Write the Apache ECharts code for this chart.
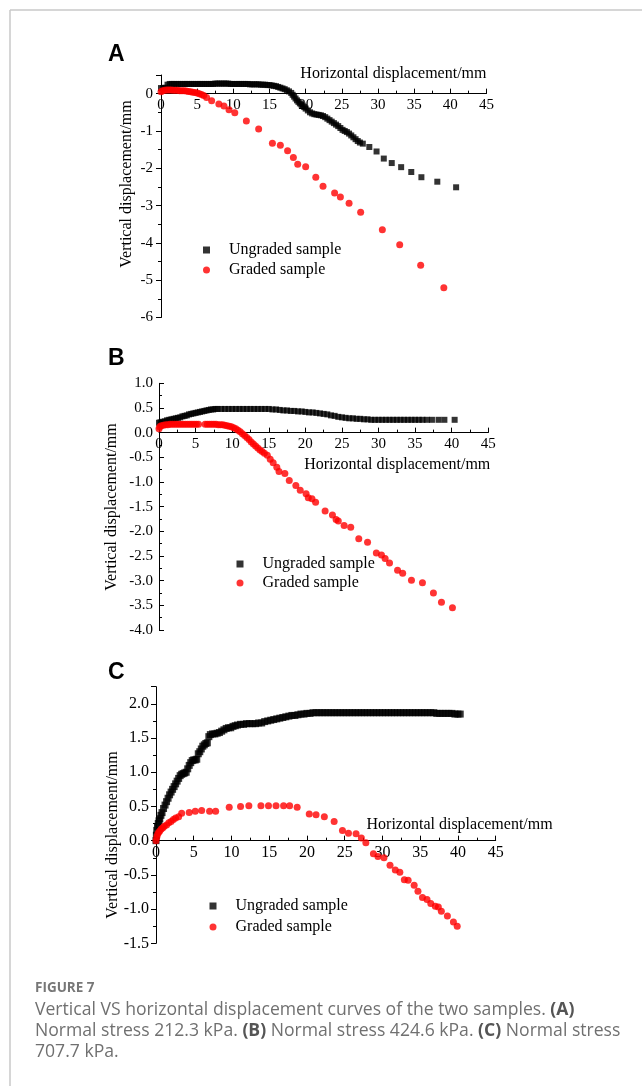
<!DOCTYPE html>
<html>
<head>
<meta charset="utf-8">
<script src="https://cdn.jsdelivr.net/npm/echarts@6/dist/echarts.min.js"></script>
<style>
html,body{margin:0;padding:0;background:#fff;}
#chart{width:642px;height:1086px;}
</style>
</head>
<body>
<div id="chart"></div>
<script>
// ---------- DATA ----------
const seriesNames = ['Ungraded sample', 'Graded sample'];
const panelLetters = ['A', 'B', 'C'];
const xAxisName = 'Horizontal displacement/mm';
const yAxisName = 'Vertical displacement/mm';
const xTicks = [0, 5, 10, 15, 20, 25, 30, 35, 40, 45];

// Panel A (212.3 kPa)
const ungradedA = [[0,0.15],[0.3,0.15],[0.6,0.16],[0.9,0.24],[1.2,0.26],[1.5,0.26],[1.8,0.26],[2.1,0.26],[2.4,0.26],[2.7,0.26],[3,0.26],[3.3,0.26],[3.6,0.26],[3.9,0.26],[4.2,0.26],[4.5,0.26],[4.8,0.26],[5.1,0.26],[5.4,0.26],[5.7,0.26],[6,0.26],[6.3,0.26],[6.6,0.26],[6.9,0.26],[7.2,0.26],[7.5,0.27],[7.8,0.27],[8.1,0.27],[8.4,0.27],[8.7,0.27],[9,0.27],[9.3,0.27],[9.6,0.26],[9.9,0.26],[10.2,0.26],[10.5,0.26],[10.8,0.26],[11.1,0.26],[11.4,0.26],[11.7,0.26],[12,0.26],[12.3,0.25],[12.6,0.25],[12.9,0.25],[13.2,0.25],[13.5,0.25],[13.8,0.24],[14.1,0.24],[14.4,0.24],[14.7,0.23],[15,0.23],[15.3,0.22],[15.6,0.21],[15.9,0.2],[16.2,0.18],[16.5,0.16],[16.8,0.14],[17.1,0.12],[17.4,0.09],[17.7,0.06],[18,0.02],[18.2,-0.03],[18.4,-0.08],[18.6,-0.13],[18.8,-0.18],[19,-0.22],[19.2,-0.26],[19.4,-0.29],[19.6,-0.32],[19.8,-0.36],[20,-0.4],[20.3,-0.45],[20.6,-0.5],[20.9,-0.53],[21.2,-0.55],[21.5,-0.56],[21.8,-0.57],[22.1,-0.58],[22.4,-0.6],[22.7,-0.63],[23,-0.67],[23.3,-0.71],[23.6,-0.75],[23.9,-0.79],[24.2,-0.83],[24.5,-0.87],[24.8,-0.92],[25.1,-0.97],[25.4,-1.0],[25.7,-1.03],[26,-1.07],[26.3,-1.12],[26.6,-1.17],[26.9,-1.22],[27.2,-1.27],[27.5,-1.31],[27.9,-1.34],[28.8,-1.43],[29.8,-1.55],[30.8,-1.74],[31.9,-1.86],[33.2,-1.97],[34.6,-2.1],[36,-2.24],[38.2,-2.36],[40.8,-2.51]];
const gradedA = [[0,0.05],[0.2,0.08],[0.5,0.09],[0.8,0.1],[1.1,0.1],[1.4,0.1],[1.7,0.09],[2.0,0.09],[2.3,0.09],[2.6,0.08],[2.9,0.08],[3.2,0.08],[3.5,0.07],[3.8,0.06],[4.1,0.05],[4.4,0.04],[4.7,0.03],[5.0,0.02],[5.3,0.0],[5.6,-0.02],[5.9,-0.05],[6.3,-0.1],[7.0,-0.19],[8.0,-0.28],[8.7,-0.33],[9.4,-0.43],[10.2,-0.51],[11.8,-0.73],[13.5,-0.95],[15.4,-1.33],[16.5,-1.38],[17.5,-1.53],[18.3,-1.71],[18.9,-1.89],[20,-1.96],[21.4,-2.24],[22.4,-2.48],[24,-2.66],[24.8,-2.77],[26,-2.94],[27.6,-3.18],[30.6,-3.65],[33,-4.05],[35.9,-4.6],[39.1,-5.2]];

// Panel B (424.6 kPa)
const ungradedB = [[0,0.2],[0.2,0.21],[0.5,0.22],[0.8,0.23],[1.1,0.25],[1.4,0.26],[1.7,0.27],[2.0,0.28],[2.3,0.29],[2.6,0.3],[2.9,0.31],[3.2,0.33],[3.5,0.34],[3.8,0.35],[4.1,0.37],[4.4,0.38],[4.7,0.39],[5.0,0.4],[5.3,0.41],[5.6,0.42],[5.9,0.43],[6.2,0.44],[6.5,0.45],[6.8,0.46],[7.1,0.47],[7.4,0.47],[7.7,0.48],[8.0,0.48],[8.5,0.48],[9.0,0.48],[9.5,0.48],[10,0.48],[10.5,0.48],[11,0.48],[11.5,0.48],[12,0.48],[12.5,0.48],[13,0.48],[13.5,0.48],[14,0.48],[14.5,0.48],[15,0.48],[15.5,0.47],[16,0.47],[16.5,0.46],[17,0.45],[17.5,0.45],[18,0.44],[18.5,0.44],[19,0.43],[19.5,0.43],[20,0.42],[20.5,0.41],[21,0.41],[21.5,0.4],[22,0.39],[22.5,0.38],[23,0.37],[23.5,0.35],[24,0.34],[24.5,0.32],[25,0.31],[25.5,0.3],[26,0.29],[26.5,0.29],[27,0.28],[27.5,0.28],[28,0.27],[28.5,0.27],[29,0.26],[29.5,0.26],[30,0.26],[30.5,0.26],[31,0.26],[31.5,0.26],[32,0.26],[32.5,0.26],[33,0.26],[33.5,0.26],[34,0.26],[34.5,0.26],[35,0.26],[35.5,0.26],[36,0.26],[36.6,0.26],[37.3,0.26],[38.2,0.26],[39,0.26],[40.4,0.26]];
const gradedB = [[0,0.08],[0.1,0.12],[0.3,0.14],[0.6,0.15],[0.9,0.16],[1.2,0.16],[1.5,0.17],[1.8,0.17],[2.1,0.17],[2.4,0.17],[2.7,0.17],[3.0,0.17],[3.3,0.17],[3.6,0.17],[3.9,0.17],[4.2,0.17],[4.5,0.17],[4.8,0.17],[5.1,0.17],[5.4,0.17],[6.3,0.17],[6.6,0.17],[6.9,0.17],[7.2,0.17],[7.5,0.17],[7.8,0.17],[8.1,0.16],[8.4,0.16],[8.7,0.16],[9.0,0.15],[9.3,0.14],[9.6,0.13],[9.9,0.12],[10.2,0.1],[10.5,0.08],[10.8,0.05],[11.1,0.02],[11.4,-0.02],[11.7,-0.06],[12,-0.1],[12.3,-0.14],[12.6,-0.19],[12.9,-0.23],[13.2,-0.27],[13.5,-0.31],[13.8,-0.35],[14.1,-0.38],[14.4,-0.42],[14.8,-0.46],[15.2,-0.54],[15.6,-0.61],[16.1,-0.7],[16.4,-0.79],[17.2,-0.83],[17.8,-0.97],[18.7,-1.07],[19.3,-1.17],[20.1,-1.24],[20.4,-1.32],[20.9,-1.34],[21.4,-1.41],[22.7,-1.59],[23.7,-1.67],[24.2,-1.76],[24.5,-1.79],[25.3,-1.88],[26.2,-1.92],[27.3,-2.15],[28.5,-2.22],[29.7,-2.44],[30.4,-2.48],[30.9,-2.55],[31.5,-2.64],[32.6,-2.79],[33.3,-2.85],[34.5,-2.99],[36,-3.04],[37.5,-3.25],[38.6,-3.44],[40.1,-3.55]];

// Panel C (707.7 kPa)
const ungradedC = [[0,0],[0.05,0.08],[0.1,0.15],[0.2,0.2],[0.3,0.25],[0.4,0.29],[0.5,0.32],[0.65,0.37],[0.8,0.41],[1.0,0.47],[1.2,0.52],[1.4,0.57],[1.6,0.62],[1.8,0.67],[2.0,0.71],[2.2,0.75],[2.4,0.79],[2.6,0.83],[2.8,0.87],[3.0,0.91],[3.2,0.95],[3.4,0.97],[3.6,0.98],[3.8,0.99],[4.0,1.0],[4.2,1.05],[4.4,1.1],[4.6,1.14],[4.8,1.17],[5.0,1.18],[5.2,1.18],[5.4,1.19],[5.6,1.27],[5.8,1.3],[6.0,1.34],[6.2,1.38],[6.4,1.4],[6.6,1.42],[6.8,1.43],[7.0,1.52],[7.2,1.55],[7.5,1.56],[7.8,1.56],[8.1,1.57],[8.4,1.58],[8.7,1.6],[9.0,1.62],[9.3,1.64],[9.6,1.65],[9.9,1.65],[10.2,1.67],[10.5,1.68],[10.8,1.69],[11.2,1.7],[11.6,1.7],[12,1.71],[12.4,1.71],[12.8,1.71],[13.2,1.71],[13.6,1.72],[14,1.72],[14.4,1.74],[14.8,1.75],[15.2,1.76],[15.6,1.77],[16,1.78],[16.4,1.79],[16.8,1.8],[17.2,1.81],[17.6,1.82],[18,1.83],[18.4,1.83],[18.8,1.84],[19.2,1.85],[19.6,1.85],[20,1.86],[20.4,1.86],[20.8,1.87],[21.2,1.87],[21.6,1.87],[22,1.87],[22.4,1.87],[22.8,1.87],[23.2,1.87],[23.6,1.87],[24,1.87],[24.4,1.87],[24.8,1.87],[25.2,1.87],[25.6,1.87],[26,1.87],[26.4,1.87],[26.8,1.87],[27.2,1.87],[27.6,1.87],[28,1.87],[28.4,1.87],[28.8,1.87],[29.2,1.87],[29.6,1.87],[30,1.87],[30.4,1.87],[30.8,1.87],[31.2,1.87],[31.6,1.87],[32,1.87],[32.4,1.87],[32.8,1.87],[33.2,1.87],[33.6,1.87],[34,1.87],[34.4,1.87],[34.8,1.87],[35.2,1.87],[35.6,1.87],[36,1.87],[36.4,1.87],[36.8,1.87],[37.2,1.86],[37.6,1.86],[38,1.86],[38.4,1.86],[38.8,1.86],[39.2,1.86],[39.6,1.85],[40,1.85],[40.3,1.85]];
const gradedC = [[0,0],[0.1,0.05],[0.2,0.09],[0.35,0.12],[0.5,0.14],[0.7,0.17],[0.9,0.19],[1.1,0.21],[1.4,0.23],[1.7,0.26],[2.0,0.28],[2.3,0.31],[2.6,0.33],[3.0,0.35],[3.4,0.4],[4.4,0.41],[5.2,0.43],[6.05,0.44],[7.1,0.43],[7.9,0.43],[9.7,0.49],[11.2,0.5],[12.3,0.51],[13.9,0.51],[14.9,0.51],[15.9,0.51],[16.9,0.51],[17.7,0.51],[18.7,0.49],[20.3,0.39],[21.2,0.38],[22.3,0.35],[23.6,0.28],[24.7,0.15],[25.5,0.11],[26.5,0.1],[27.2,0.04],[27.8,-0.03],[28.8,-0.19],[29.4,-0.23],[30.2,-0.25],[31,-0.36],[31.7,-0.43],[32.3,-0.46],[32.9,-0.57],[33.4,-0.58],[34.2,-0.65],[34.7,-0.74],[35.3,-0.83],[35.9,-0.86],[36.4,-0.92],[37,-0.96],[37.4,-0.97],[37.8,-1.03],[38.6,-1.1],[39.4,-1.19],[39.9,-1.25]];

const captionTitle = 'FIGURE 7';
const captionLines = [
  'Vertical VS horizontal displacement curves of the two samples. {b|(A)}',
  'Normal stress 212.3 kPa. {b|(B)} Normal stress 424.6 kPa. {b|(C)} Normal stress',
  '707.7 kPa.'
];

// ---------- CHART ----------
const SERIF = '"Liberation Serif","Times New Roman",serif';
const chart = echarts.init(document.getElementById('chart'), null, {renderer: 'canvas', width: 642, height: 1086});

const grids = [
  {left: 161, top: 75, width: 325.5, height: 242.5},
  {left: 159, top: 383.3, width: 329.3, height: 246.7},
  {left: 156, top: 686.7, width: 339.7, height: 256.6}
];
const yCfg = [
  {min: -6, max: 0.5, interval: 1, dec: 0, inside: false, fs: 15, margin: 8},
  {min: -4, max: 1, interval: 0.5, dec: 1, inside: true, fs: 15, margin: 6},
  {min: -1.5, max: 2.25, interval: 0.5, dec: 1, inside: false, fs: 16, margin: 7}
];
const xNameCfg = [
  {gap: 0, style: {align: 'right', verticalAlign: 'bottom', padding: [0, 0, 12, 0]}},
  {gap: 2, style: {align: 'right', verticalAlign: 'top', padding: [24, 0, 0, 0]}},
  {gap: 57, style: {align: 'right', verticalAlign: 'bottom', padding: [0, 0, 8, 0]}}
];

// x axis sits at y = 0: shift it up from the grid bottom by the scale fraction of the y range below zero
const xAxes = grids.map((g, i) => ({
  type: 'value', gridIndex: i, min: xTicks[0], max: xTicks[xTicks.length - 1], interval: 5,
  position: 'bottom',
  offset: -((0 - yCfg[i].min) / (yCfg[i].max - yCfg[i].min)) * g.height,
  name: xAxisName, nameLocation: 'end', nameGap: xNameCfg[i].gap,
  nameTextStyle: Object.assign({fontFamily: SERIF, fontSize: 16, color: '#000'}, xNameCfg[i].style),
  axisLine: {onZero: false, lineStyle: {color: '#000', width: 1}},
  axisTick: {show: true, inside: true, length: 5, lineStyle: {color: '#000'}},
  minorTick: {show: true, splitNumber: 2, length: 3, lineStyle: {color: '#000'}},
  axisLabel: {fontFamily: SERIF, fontSize: i === 2 ? 16 : 15, color: '#000', margin: 4},
  splitLine: {show: false}
}));
const yAxes = yCfg.map((c, i) => ({
  type: 'value', gridIndex: i, min: c.min, max: c.max, interval: c.interval,
  axisLine: {show: true, onZero: false, lineStyle: {color: '#000', width: 1}},
  axisTick: {show: true, inside: c.inside, length: 5, lineStyle: {color: '#000'}},
  minorTick: {show: true, splitNumber: 2, length: 3, lineStyle: {color: '#000'}},
  axisLabel: {fontFamily: SERIF, fontSize: c.fs, color: '#000', margin: c.margin, showMaxLabel: c.max === 1,
    formatter: v => (Math.abs(v) < 1e-9 ? 0 : v).toFixed(c.dec)},
  splitLine: {show: false}
}));

const ungraded = [ungradedA, ungradedB, ungradedC];
const graded = [gradedA, gradedB, gradedC];
const series = [];
for (let i = 0; i < 3; i++) {
  series.push({type: 'scatter', name: seriesNames[0], xAxisIndex: i, yAxisIndex: i, data: ungraded[i],
    symbol: 'rect', symbolSize: i === 2 ? 7 : 6, itemStyle: {color: '#000'}, z: 2});
}
for (let i = 0; i < 3; i++) {
  series.push({type: 'scatter', name: seriesNames[1], xAxisIndex: i, yAxisIndex: i, data: graded[i],
    symbol: 'circle', symbolSize: 7, itemStyle: {color: '#ff0000'}, z: 3});
}

const legendPos = [
  {left: 198, top: 237, itemGap: 4},
  {left: 231.5, top: 551, itemGap: 3},
  {left: 204.5, top: 893, itemGap: 5}
];
const legends = legendPos.map(p => ({
  orient: 'vertical', left: p.left, top: p.top, itemGap: p.itemGap, itemWidth: 7, itemHeight: 7,
  selectedMode: false,
  data: [{name: seriesNames[0], icon: 'rect'}, {name: seriesNames[1], icon: 'circle'}],
  textStyle: {fontFamily: SERIF, fontSize: 16, color: '#000', padding: [0, 0, 0, 14]}
}));

const letterPos = [[108, 66], [108, 370], [108, 684]];
const yNamePos = [[127, 184], [112, 507], [113, 835]];
const graphics = [
  {type: 'line', shape: {x1: 10, y1: 10, x2: 642, y2: 10}, style: {stroke: '#c8c8c8', lineWidth: 1.5}},
  {type: 'line', shape: {x1: 10, y1: 10, x2: 10, y2: 1086}, style: {stroke: '#c8c8c8', lineWidth: 1.5}}
];
panelLetters.forEach((L, i) => {
  graphics.push({type: 'text', x: letterPos[i][0], y: letterPos[i][1],
    style: {text: L, fill: '#000', font: 'bold 23px "Liberation Sans", Arial, sans-serif', textVerticalAlign: 'bottom'}});
  graphics.push({type: 'text', x: yNamePos[i][0], y: yNamePos[i][1], rotation: Math.PI / 2,
    style: {text: yAxisName, fill: '#000', font: '16px ' + SERIF, textAlign: 'center', textVerticalAlign: 'middle'}});
});
graphics.push({type: 'text', x: 35, y: 988,
  style: {text: captionTitle, fill: '#777', font: 'bold 13.5px "Open Sans", sans-serif', textVerticalAlign: 'middle'}});
const captionY = [1010, 1031, 1052];
captionLines.forEach((t, i) => {
  graphics.push({type: 'text', x: 35, y: captionY[i],
    style: {text: t, fill: '#707070', fontFamily: '"Open Sans", sans-serif', fontSize: 17.6, textVerticalAlign: 'middle',
      rich: {b: {fontWeight: 'bold', fill: '#555', fontFamily: '"Open Sans", sans-serif', fontSize: 17.6}}}});
});

chart.setOption({
  animation: false,
  backgroundColor: '#fff',
  grid: grids.map(g => Object.assign({containLabel: false}, g)),
  xAxis: xAxes,
  yAxis: yAxes,
  legend: legends,
  series: series,
  graphic: graphics
});
</script>
</body>
</html>
